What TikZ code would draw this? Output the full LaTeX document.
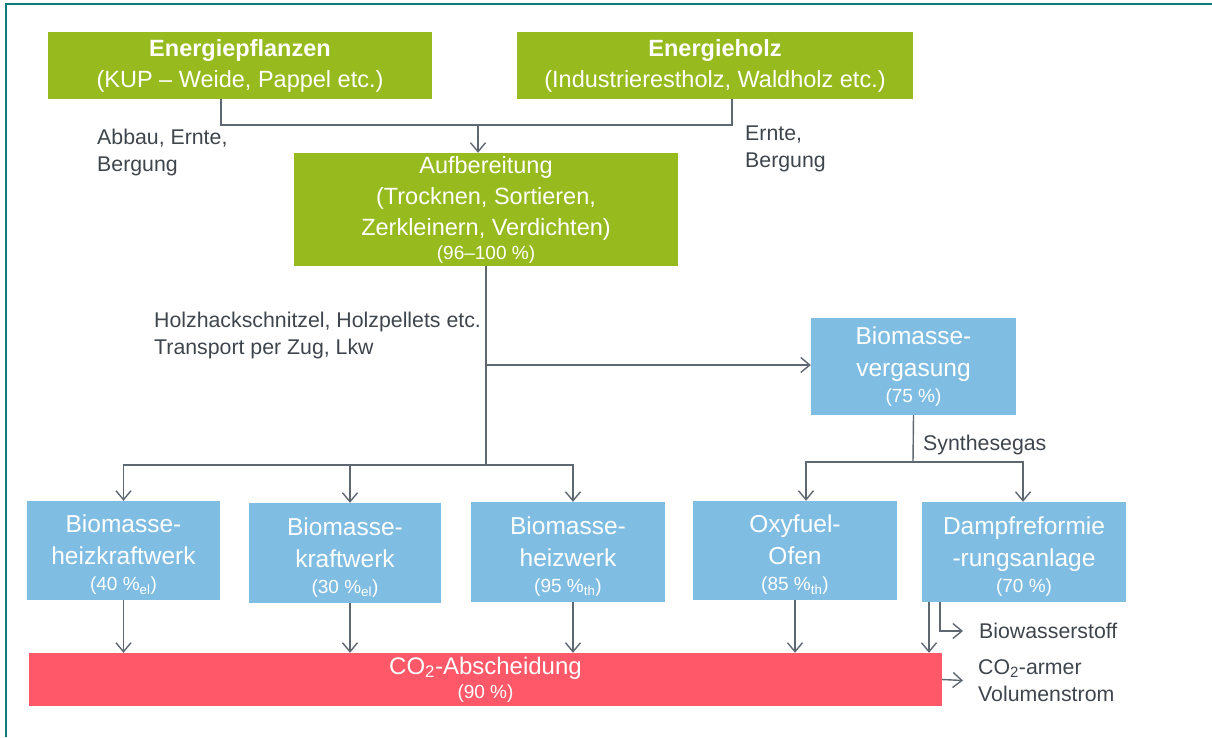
\documentclass[tikz,border=0pt]{standalone}
\usepackage{fontspec}
\setmainfont{Liberation Sans}
\usetikzlibrary{arrows.meta}
\definecolor{grn}{HTML}{97BA1F}
\definecolor{blu}{HTML}{80BDE3}
\definecolor{rd}{HTML}{FF5868}
\definecolor{ln}{HTML}{5F6771}
\definecolor{txt}{HTML}{3F454C}
\definecolor{framec}{HTML}{0B7B7B}
\newcommand{\smallpct}{\fontsize{19}{24}\selectfont}
\begin{document}
\begin{tikzpicture}[x=1pt,y=-1pt,
  gbox/.style={fill=grn,inner sep=0pt,align=center,text=white,font=\fontsize{23.5}{31}\selectfont},
  bbox/.style={fill=blu,inner sep=0pt,align=center,text=white,font=\fontsize{24.5}{32}\selectfont,minimum height=99pt},
  rbox/.style={fill=rd,inner sep=0pt,align=center,text=white,font=\fontsize{24}{28}\selectfont},
  lbl/.style={inner sep=0pt,align=left,text=txt,font=\fontsize{21.3}{27}\selectfont},
  conn/.style={draw=ln,line width=1.4pt},
  arr/.style={conn,-{Straight Barb[length=9pt,width=15pt,line width=1.4pt]}}]
\useasboundingbox (0,0) rectangle (1212,737);
\draw[framec,line width=2pt] (6,737) -- (6,4) -- (1212,4);

% boxes
\node[gbox,minimum width=384pt,minimum height=67pt] (ep) at (240,65.5) {\bfseries Energiepflanzen\\(KUP – Weide, Pappel etc.)};
\node[gbox,minimum width=396pt,minimum height=67pt] (eh) at (715,65.5) {\bfseries Energieholz\\(Industrierestholz, Waldholz etc.)};
\node[gbox,minimum width=384pt,minimum height=113pt] (auf) at (486,209.5) {Aufbereitung\\(Trocknen, Sortieren,\\Zerkleinern, Verdichten)\\[-7pt]{\smallpct (96–100 \%)}};
\node[bbox,minimum width=205pt,minimum height=97pt] (verg) at (913.5,366.5) {Biomasse-\\vergasung\\[-6pt]{\smallpct (75 \%)}};
\node[bbox,minimum width=193pt] (bhkw) at (123.5,550.5) {\rule{0pt}{26pt}Biomasse-\\heizkraftwerk\\[-6pt]{\smallpct (40 \%\textsubscript{el})}};
\node[bbox,minimum width=192pt,minimum height=100pt] (bkw) at (345,553) {\rule{0pt}{26pt}Biomasse-\\kraftwerk\\[-6pt]{\smallpct (30 \%\textsubscript{el})}};
\node[bbox,minimum width=194pt,minimum height=100pt] (hw) at (568,552) {\rule{0pt}{26pt}Biomasse-\\heizwerk\\[-6pt]{\smallpct (95 \%\textsubscript{th})}};
\node[bbox,minimum width=204pt] (oxy) at (795,550.5) {\rule{0pt}{26pt}Oxyfuel-\\Ofen\\[-6pt]{\smallpct (85 \%\textsubscript{th})}};
\node[bbox,minimum width=204pt,minimum height=100pt] (dampf) at (1024,552) {\rule{0pt}{26pt}Dampfreformie\\-rungsanlage\\[-6pt]{\smallpct (70 \%)}};
\node[rbox,minimum width=913pt,minimum height=53pt] (co2) at (485.5,679.5) {CO\textsubscript{2}-Abscheidung\\[-4pt]{\smallpct (90 \%)}};

% labels
\node[lbl,anchor=west] (l1) at (97,152.5) {Abbau, Ernte,\\Bergung};
\node[lbl,anchor=west] (l2) at (745,148.5) {Ernte,\\Bergung};
\node[lbl,anchor=west] (l3) at (154,335.5) {Holzhackschnitzel, Holzpellets etc.\\Transport per Zug, Lkw};
\node[lbl,anchor=west] (sg) at (923,445) {Synthesegas};
\node[lbl,anchor=west] (bw) at (979,631) {Biowasserstoff};
\node[lbl,anchor=west] (vol) at (978,680.5) {CO\textsubscript{2}-armer\\Volumenstrom};

% connectors
\coordinate (join) at (478,125);
\coordinate (branch) at (486,365);
\coordinate (hub) at (486,465);
\coordinate (sgj) at (913,462);
\draw[conn] ([xshift=-19pt]ep.south) |- (join);
\draw[conn] ([xshift=17pt]eh.south) |- (join);
\draw[arr] (join) -- (join |- auf.north);
\draw[conn] (auf.south) -- (hub);
\draw[arr] (branch) -- (branch -| verg.west);
\draw[arr] (hub) -| (bhkw.north);
\draw[arr] (hub) -| ([xshift=5pt]bkw.north);
\draw[arr] (hub) -| ([xshift=5pt]hw.north);
\draw[conn] (verg.south) -- (sgj);
\draw[arr] (sgj) -| ([xshift=11pt]oxy.north);
\draw[arr] (sgj) -| ([xshift=-1pt]dampf.north);
\draw[arr] (bhkw.south) -- (bhkw.south |- co2.north);
\draw[arr] ([xshift=5pt]bkw.south) -- ([xshift=5pt]bkw.south |- co2.north);
\draw[arr] ([xshift=5pt]hw.south) -- ([xshift=5pt]hw.south |- co2.north);
\draw[arr] (oxy.south) -- (oxy.south |- co2.north);
\draw[arr] ([xshift=-95pt]dampf.south) -- ([xshift=-95pt]dampf.south |- co2.north);
\draw[arr] ([xshift=-84pt]dampf.south) |- ([xshift=-16pt]bw.west);
\draw[arr] (co2.east) -- ([xshift=-15pt]vol.west);
\end{tikzpicture}
\end{document}
